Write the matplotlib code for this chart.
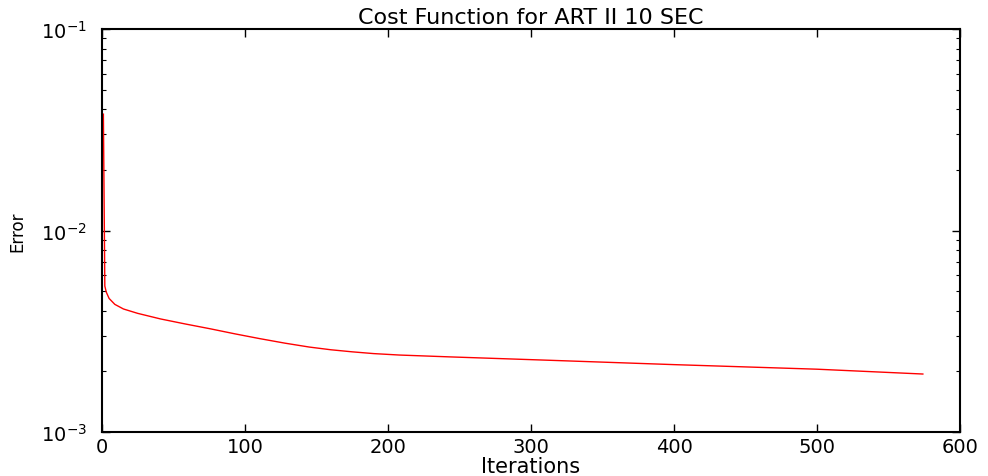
import numpy as np
import matplotlib
matplotlib.use("Agg")
import matplotlib.pyplot as plt

# cost per iteration
iters = [1, 2, 3, 5, 9, 15, 25, 41, 58, 76, 93, 110, 128, 145, 160, 175, 190, 208, 243, 313, 400, 500, 574]
cost = [0.0378, 0.0053, 0.00495, 0.0046, 0.0043, 0.00408, 0.00388, 0.00364, 0.00344,
        0.00325, 0.00307, 0.00291, 0.00276, 0.00264, 0.00256, 0.00250, 0.00245,
        0.00241, 0.00236, 0.00227, 0.00216, 0.00205, 0.00194]

plt.rcParams['font.family'] = ['DejaVu Sans']

fig = plt.figure(figsize=(9.88, 4.77), dpi=100)
ax = fig.add_axes([0.1032, 0.0922, 0.8685, 0.8449])

ax.plot(iters, cost, color='red', linewidth=1.0)
ax.set_yscale('log')
ax.set_xlim(0, 600)
ax.set_ylim(1e-3, 1e-1)

ax.set_title('Cost Function for ART II 10 SEC', fontsize=16, pad=4)
ax.set_xlabel('Iterations', fontsize=15, labelpad=0)
ax.set_ylabel('Error', fontsize=12, labelpad=10)

ax.tick_params(which='both', direction='in', top=True, right=True, labelsize=14)
ax.tick_params(axis='y', pad=11)
ax.tick_params(which='major', length=6, width=1)
ax.tick_params(which='minor', length=3, width=0.8)
for s in ax.spines.values():
    s.set_linewidth(1.5)

fig.savefig('out.png', dpi=100)
